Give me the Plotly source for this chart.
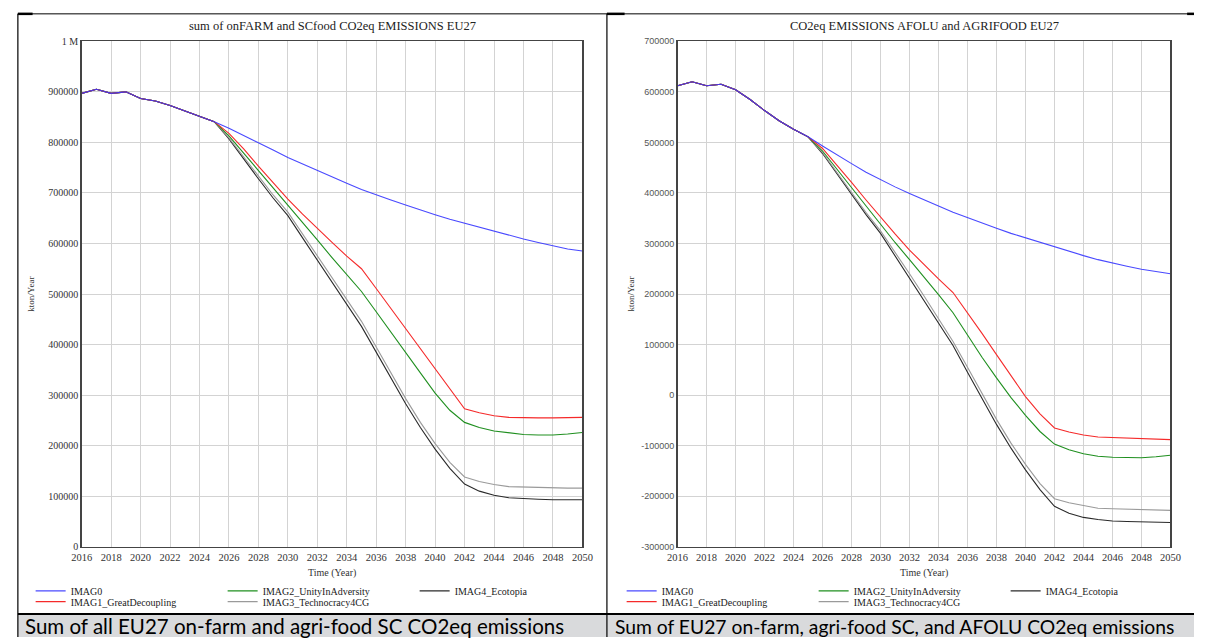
import plotly.graph_objects as go

W, H = 1205, 643
years = list(range(2016, 2051))

names = ["IMAG0", "IMAG1_GreatDecoupling", "IMAG2_UnityInAdversity",
         "IMAG3_Technocracy4CG", "IMAG4_Ecotopia"]

# ---- Left panel: sum of onFARM and SCfood CO2eq emissions (kton/Year, in thousands) ----
left_prefix = [897, 905, 897, 900, 887, 882, 873, 862, 852, 841]
left_IMAG0 = left_prefix + [828, 814, 800, 785, 770, 757, 744, 731, 719, 707,
                            696, 686, 676, 666, 657, 648, 640, 632, 624, 616,
                            609, 602, 595, 589, 585]
left_IMAG1 = left_prefix + [818, 787, 753, 720, 688, 658, 629, 602, 575, 550,
                            511, 471, 431, 391, 351, 311, 273, 265, 259, 256,
                            255, 255, 255, 255, 256]
left_IMAG2 = left_prefix + [813, 779, 744, 709, 675, 641, 607, 572, 538, 505,
                            465, 424, 384, 344, 304, 270, 246, 236, 229, 225,
                            222, 221, 221, 223, 226]
left_IMAG3 = left_prefix + [809, 771, 733, 696, 662, 619, 576, 533, 490, 446,
                            395, 343, 293, 246, 204, 167, 138, 129, 123, 119,
                            118, 117, 117, 116, 116]
left_IMAG4 = left_prefix + [807, 767, 728, 690, 655, 611, 567, 523, 479, 436,
                            385, 333, 283, 236, 193, 155, 124, 110, 102, 97,
                            95, 94, 93, 93, 93]

# ---- Right panel: CO2eq emissions AFOLU and AGRIFOOD (kton/Year, in thousands) ----
right_prefix = [612, 620, 612, 615, 604, 585, 563, 543, 526, 511]
right_IMAG0 = right_prefix + [493, 475, 458, 441, 426, 412, 399, 386, 374, 362,
                              351, 340, 330, 320, 311, 302, 293, 284, 276, 268,
                              261, 255, 249, 244, 240]
right_IMAG1 = right_prefix + [488, 455, 421, 386, 352, 319, 287, 258, 230, 203,
                              163, 122, 80, 38, -3, -37, -65, -73, -79, -83,
                              -84, -85, -86, -87, -88]
right_IMAG2 = right_prefix + [483, 447, 410, 373, 337, 302, 268, 234, 199, 163,
                              118, 75, 34, -5, -40, -72, -97, -108, -116, -121,
                              -123, -124, -124, -122, -119]
right_IMAG3 = right_prefix + [480, 440, 400, 361, 325, 283, 240, 196, 151, 106,
                              55, 2, -48, -95, -137, -175, -205, -213, -219, -224,
                              -225, -226, -227, -228, -228]
right_IMAG4 = right_prefix + [478, 437, 396, 357, 320, 276, 232, 188, 143, 98,
                              45, -8, -58, -105, -148, -187, -220, -234, -242, -246,
                              -249, -250, -251, -252, -252]

left_series = [left_IMAG0, left_IMAG1, left_IMAG2, left_IMAG3, left_IMAG4]
right_series = [right_IMAG0, right_IMAG1, right_IMAG2, right_IMAG3, right_IMAG4]

x_ticks = list(range(2016, 2051, 2))
left_yticks = [i * 100000 for i in range(0, 11)]
left_yticktext = [str(v) for v in left_yticks[:-1]] + ["1 M"]
right_yticks = [i * 100000 for i in range(-3, 8)]
right_yticktext = [str(v) for v in right_yticks]

titles = ["sum of onFARM and SCfood CO2eq EMISSIONS EU27",
          "CO2eq EMISSIONS AFOLU and AGRIFOOD EU27"]
captions = ["Sum of all EU27 on-farm and agri-food SC CO2eq emissions",
            "Sum of EU27 on-farm, agri-food SC, and AFOLU CO2eq emissions"]

colors = ["#3535ff", "#f52a2a", "#1f8f1f", "#9a9a9a", "#2a2a2a"]

SERIF = "Liberation Serif, Times New Roman, serif"
SANS = "Liberation Sans, Arial, sans-serif"


def px(x):
    return x / W


def py(y):
    return 1 - y / H


fig = go.Figure()

# legend assignment: row1 -> IMAG0, IMAG2, IMAG4 ; row2 -> IMAG1, IMAG3
row_of = [0, 1, 0, 1, 0]
legend_ids = [["legend", "legend2"], ["legend3", "legend4"]]

for p, (series, xa, ya) in enumerate([(left_series, "x", "y"), (right_series, "x2", "y2")]):
    for i in [4, 3, 2, 1, 0]:
        fig.add_trace(go.Scatter(
            x=years, y=[v * 1000 for v in series[i]],
            mode="lines", name=names[i],
            line=dict(color=colors[i], width=1.1),
            opacity=0.9 if i == 0 else 1.0,
            xaxis=xa, yaxis=ya,
            legend=legend_ids[p][row_of[i]],
            legendrank=i + 1,
            hoverinfo="skip",
        ))

# plot area geometry (pixels)
L_X0, L_X1 = 72, 582
R_X0, R_X1 = 679, 1181
Y_TOP, Y_BOT = 36, 551

axis_common = dict(
    showgrid=True, gridcolor="#d3d3d3", gridwidth=1,
    showline=True, mirror=True, linecolor="#444", linewidth=1.5,
    ticks="", zeroline=False, fixedrange=True,
)

fig.update_layout(
    width=W, height=H,
    margin=dict(l=0, r=0, t=0, b=0),
    paper_bgcolor="white", plot_bgcolor="white",
    hovermode=False,
    xaxis=dict(domain=[px(L_X0), px(L_X1)], range=[2016, 2050], tickvals=x_ticks,
               tickfont=dict(family=SERIF, size=10.5, color="#333"), anchor="y", **axis_common),
    yaxis=dict(domain=[py(Y_BOT), py(Y_TOP)], range=[0, 1000000], tickvals=left_yticks,
               ticktext=left_yticktext, tickfont=dict(family=SERIF, size=10, color="#333"),
               anchor="x", **axis_common),
    xaxis2=dict(domain=[px(R_X0), px(R_X1)], range=[2016, 2050], tickvals=x_ticks,
                tickfont=dict(family=SERIF, size=10.5, color="#333"), anchor="y2", **axis_common),
    yaxis2=dict(domain=[py(Y_BOT), py(Y_TOP)], range=[-300000, 700000], tickvals=right_yticks,
                ticktext=right_yticktext, tickfont=dict(family=SANS, size=9, color="#555"),
                anchor="x2", **axis_common),
)

leg_common = dict(orientation="h", xanchor="left", yanchor="middle",
                  font=dict(family=SERIF, size=10, color="#222"),
                  entrywidth=147, entrywidthmode="pixels",
                  bgcolor="rgba(0,0,0,0)", traceorder="normal",
                  itemclick=False, itemdoubleclick=False)
fig.update_layout(
    legend=dict(x=px(20), y=py(596), **leg_common),
    legend2=dict(x=px(20), y=py(607), **leg_common),
    legend3=dict(x=px(622), y=py(596), **leg_common),
    legend4=dict(x=px(622), y=py(607), **leg_common),
)

# frame / table lines and caption bands
shapes = []
shapes.append(dict(type="rect", xref="paper", yref="paper", x0=px(7), x1=px(607),
                   y0=py(643), y1=py(620), fillcolor="#d9dadc", line=dict(width=0), layer="below"))
shapes.append(dict(type="rect", xref="paper", yref="paper", x0=px(607), x1=px(1205),
                   y0=py(643), y1=py(620), fillcolor="#d9dadc", line=dict(width=0), layer="below"))
for (x0, y0, x1, y1, w) in [(7, 8, 1205, 8, 1), (7, 8, 7, 643, 1.2), (607, 8, 607, 643, 1.2),
                            (7, 619.5, 1205, 619.5, 2), (7, 8, 22, 8, 2.5), (607, 8, 625, 8, 2.5),
                            (1198, 8, 1205, 8, 2.5)]:
    shapes.append(dict(type="line", xref="paper", yref="paper", x0=px(x0), x1=px(x1),
                       y0=py(y0), y1=py(y1), line=dict(color="black", width=w)))
fig.update_layout(shapes=shapes)

annotations = []
# chart titles, centred over each plot area
for cx, t in [((L_X0 + L_X1) / 2, titles[0]), ((R_X0 + R_X1) / 2, titles[1])]:
    annotations.append(dict(text=t, x=px(cx), y=py(20), xref="paper", yref="paper",
                            showarrow=False, xanchor="center", yanchor="middle",
                            font=dict(family=SERIF, size=12.5, color="#222")))
# axis titles
for cx in [(L_X0 + L_X1) / 2, (R_X0 + R_X1) / 2]:
    annotations.append(dict(text="Time (Year)", x=px(cx), y=py(578), xref="paper", yref="paper",
                            showarrow=False, xanchor="center", yanchor="middle",
                            font=dict(family=SERIF, size=10, color="#333")))
for cx in [20, 632]:
    annotations.append(dict(text="kton/Year", x=px(cx), y=py((Y_TOP + Y_BOT) / 2), xref="paper",
                            yref="paper", showarrow=False, textangle=-90,
                            xanchor="center", yanchor="middle",
                            font=dict(family=SERIF, size=9, color="#333")))
# captions
for lx, c, fs in [(12, captions[0], 20.5), (613, captions[1], 19.3)]:
    annotations.append(dict(text=c, x=px(lx), y=py(632), xref="paper", yref="paper",
                            showarrow=False, xanchor="left", yanchor="middle",
                            font=dict(family="Lato, Open Sans, sans-serif", size=fs, color="black")))
fig.update_layout(annotations=annotations)

fig.write_html("out.html", config={"displayModeBar": False, "staticPlot": True},
               post_script="document.body.style.margin='0px';document.body.style.overflow='hidden';")
